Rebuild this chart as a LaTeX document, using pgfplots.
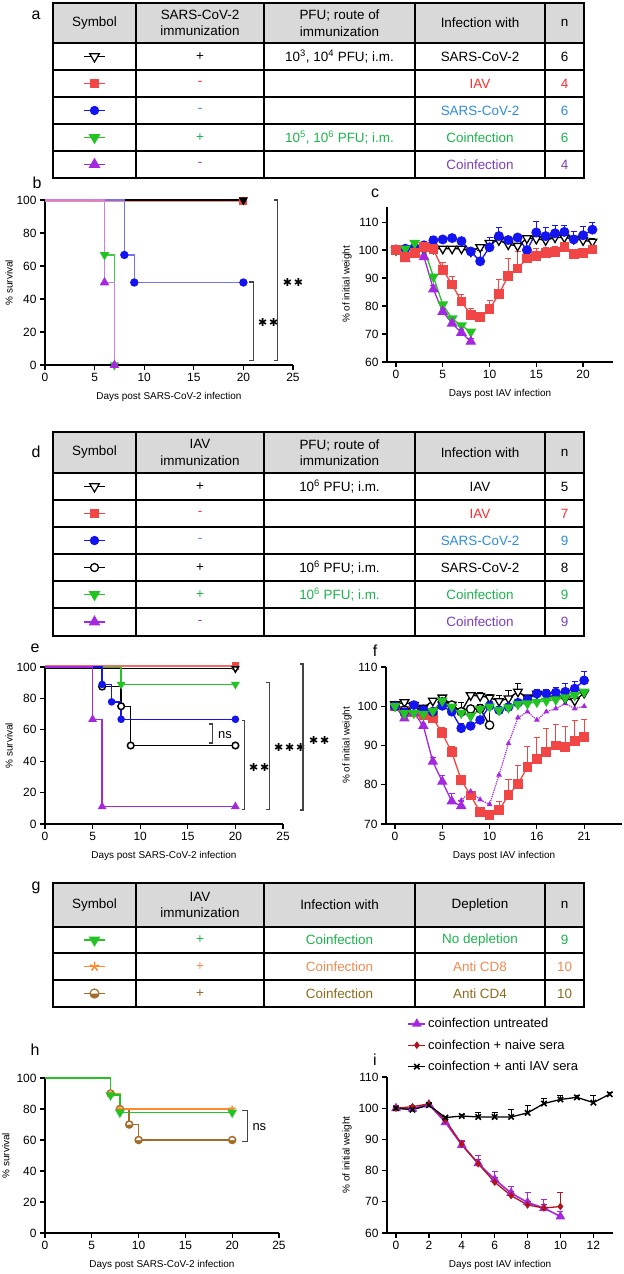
\documentclass[border=0pt]{standalone}
\usepackage{fontspec}
\setmainfont{Liberation Sans}
\newfontfamily\dv{DejaVu Sans}
\usepackage{pgfplots}
\pgfplotsset{compat=1.18}
\usetikzlibrary{plotmarks}

\definecolor{mred}{HTML}{F04646}
\definecolor{mblue}{HTML}{1414F0}
\definecolor{mgreen}{HTML}{22C322}
\definecolor{mpurple}{HTML}{A428E0}
\definecolor{morange}{HTML}{FF8A2E}
\definecolor{mbrown}{HTML}{A36C2A}
\definecolor{mdred}{HTML}{B0141E}
\definecolor{tred}{HTML}{FF2A2A}
\definecolor{tblue}{HTML}{2E8BDC}
\definecolor{tgreen}{HTML}{1DB24C}
\definecolor{tpurple}{HTML}{7E3CBE}
\definecolor{torange}{HTML}{F08A52}
\definecolor{tbrown}{HTML}{8A6A1C}
\definecolor{hdr}{HTML}{D9D9D9}
\definecolor{brkc}{HTML}{444444}

\newcommand{\tf}{\fontsize{13.5}{16.5}\selectfont}
\newcommand{\tickf}{\fontsize{12}{14}\selectfont}
\newcommand{\labf}{\fontsize{13}{15}\selectfont}
\newcommand{\legf}{\fontsize{13}{15}\selectfont}
\newcommand{\letf}{\fontsize{16}{18}\selectfont}
\newcommand{\stars}[1]{{\fontsize{11}{13}\selectfont\dv #1}}

\tikzset{
  tl/.style={line width=1.3bp, black},
  bracket/.style={line width=1.1bp, brkc},
}
\pgfplotsset{
  gp/.style={scale only axis, clip=false, axis lines*=left,
    axis line style={line width=1.3bp,-},
    every tick/.style={line width=1.2bp, black},
    tick align=outside, major tick length=5bp,
    tick label style={font=\tickf},
    /pgf/number format/assume math mode=true,
    label style={font=\labf},
    every axis x label/.style={at={(axis description cs:0.5,0)}, anchor=center, yshift=-32bp},
  },
  ylab/.style={every axis y label/.style={at={(axis description cs:#1,0.5)}, anchor=center, rotate=90}},
  km/.style={const plot, line width=1.5bp, mark phase=2, mark repeat=1},
  wl/.style={line width=1.3bp},
  eb/.style={error bars/y dir=plus, error bars/y explicit,
    error bars/error bar style={line width=1bp, #1},
    error bars/error mark options={rotate=90, mark size=3bp, line width=1bp, #1}},
  sym/.style={line width=1.3bp, mark indices={2}},
}

\begin{document}
\begin{tikzpicture}
\useasboundingbox (0,0) rectangle (624bp,-1274bp);

% ---------- tables and panel letters ----------
\begin{axis}[at={(0bp,0bp)}, anchor=north west, scale only axis, width=624bp, height=1274bp,
  xmin=0, xmax=624, ymin=0, ymax=1274, y dir=reverse, hide axis, clip=false]
% table a
\fill[hdr] (53,3) rectangle (584,43);
\draw[tl] (53,43) -- (584,43) (53,70) -- (584,70) (53,97) -- (584,97) (53,124) -- (584,124) (53,151) -- (584,151);
\draw[tl] (136,3) -- (136,178) (264,3) -- (264,178) (415,3) -- (415,178) (545,3) -- (545,178);
\draw[tl] (53,3) rectangle (584,178);
\node[font=\tf] at (94.5,23) {Symbol};
\node[font=\tf, align=center] at (200,23) {SARS-CoV-2\\immunization};
\node[font=\tf, align=center] at (339.5,23) {PFU; route of\\immunization};
\node[font=\tf] at (480,23) {Infection with};
\node[font=\tf] at (564.5,23) {n};
\node[font=\tf] at (200,56.5) {+};
\node[font=\tf] at (339.5,56.5) {10\textsuperscript{3}, 10\textsuperscript{4} PFU; i.m.};
\node[font=\tf] at (480,56.5) {SARS-CoV-2};
\node[font=\tf] at (564.5,56.5) {6};
\node[font=\tf, tred] at (200,83.5) {-};
\node[font=\tf, tred] at (480,83.5) {IAV};
\node[font=\tf, tred] at (564.5,83.5) {4};
\node[font=\tf, tblue] at (200,110.5) {-};
\node[font=\tf, tblue] at (480,110.5) {SARS-CoV-2};
\node[font=\tf, tblue] at (564.5,110.5) {6};
\node[font=\tf, tgreen] at (200,137.5) {+};
\node[font=\tf, tgreen] at (339.5,137.5) {10\textsuperscript{5}, 10\textsuperscript{6} PFU; i.m.};
\node[font=\tf, tgreen] at (480,137.5) {Coinfection};
\node[font=\tf, tgreen] at (564.5,137.5) {6};
\node[font=\tf, tpurple] at (200,164.5) {-};
\node[font=\tf, tpurple] at (480,164.5) {Coinfection};
\node[font=\tf, tpurple] at (564.5,164.5) {4};
\addplot[sym, black, mark=triangle*, mark size=5.5bp, mark options={rotate=180, fill=white, line width=1.2bp}] coordinates {(84,56.5) (94.5,56.5) (105,56.5)};
\addplot[sym, mred, mark=square*, mark size=4bp, mark options={fill=mred}] coordinates {(84,83.5) (94.5,83.5) (105,83.5)};
\addplot[sym, mblue, mark=*, mark size=4bp, mark options={fill=mblue}] coordinates {(84,110.5) (94.5,110.5) (105,110.5)};
\addplot[sym, mgreen, mark=triangle*, mark size=5.5bp, mark options={rotate=180, fill=mgreen}] coordinates {(84,137.5) (94.5,137.5) (105,137.5)};
\addplot[sym, mpurple, mark=triangle*, mark size=5.5bp, mark options={fill=mpurple}] coordinates {(84,164.5) (94.5,164.5) (105,164.5)};

% table d
\fill[hdr] (53,432) rectangle (584,473);
\draw[tl] (53,473) -- (584,473) (53,500) -- (584,500) (53,527) -- (584,527) (53,554) -- (584,554) (53,581) -- (584,581) (53,608) -- (584,608);
\draw[tl] (136,432) -- (136,636) (264,432) -- (264,636) (415,432) -- (415,636) (545,432) -- (545,636);
\draw[tl] (53,432) rectangle (584,636);
\node[font=\tf] at (94.5,452.5) {Symbol};
\node[font=\tf, align=center] at (200,452.5) {IAV\\immunization};
\node[font=\tf, align=center] at (339.5,452.5) {PFU; route of\\immunization};
\node[font=\tf] at (480,452.5) {Infection with};
\node[font=\tf] at (564.5,452.5) {n};
\node[font=\tf] at (200,486.5) {+};
\node[font=\tf] at (339.5,486.5) {10\textsuperscript{6} PFU; i.m.};
\node[font=\tf] at (480,486.5) {IAV};
\node[font=\tf] at (564.5,486.5) {5};
\node[font=\tf, tred] at (200,513.5) {-};
\node[font=\tf, tred] at (480,513.5) {IAV};
\node[font=\tf, tred] at (564.5,513.5) {7};
\node[font=\tf, tblue] at (200,540.5) {-};
\node[font=\tf, tblue] at (480,540.5) {SARS-CoV-2};
\node[font=\tf, tblue] at (564.5,540.5) {9};
\node[font=\tf] at (200,567.5) {+};
\node[font=\tf] at (339.5,567.5) {10\textsuperscript{6} PFU; i.m.};
\node[font=\tf] at (480,567.5) {SARS-CoV-2};
\node[font=\tf] at (564.5,567.5) {8};
\node[font=\tf, tgreen] at (200,594.5) {+};
\node[font=\tf, tgreen] at (339.5,594.5) {10\textsuperscript{6} PFU; i.m.};
\node[font=\tf, tgreen] at (480,594.5) {Coinfection};
\node[font=\tf, tgreen] at (564.5,594.5) {9};
\node[font=\tf, tpurple] at (200,622) {-};
\node[font=\tf, tpurple] at (480,622) {Coinfection};
\node[font=\tf, tpurple] at (564.5,622) {9};
\addplot[sym, black, mark=triangle*, mark size=5.5bp, mark options={rotate=180, fill=white, line width=1.2bp}] coordinates {(84,486.5) (94.5,486.5) (105,486.5)};
\addplot[sym, mred, mark=square*, mark size=4bp, mark options={fill=mred}] coordinates {(84,513.5) (94.5,513.5) (105,513.5)};
\addplot[sym, mblue, mark=*, mark size=4bp, mark options={fill=mblue}] coordinates {(84,540.5) (94.5,540.5) (105,540.5)};
\addplot[sym, black, mark=*, mark size=4bp, mark options={fill=white, line width=1.3bp}] coordinates {(84,567.5) (94.5,567.5) (105,567.5)};
\addplot[sym, mgreen, mark=triangle*, mark size=5.5bp, mark options={rotate=180, fill=mgreen}] coordinates {(84,594.5) (94.5,594.5) (105,594.5)};
\addplot[sym, mpurple, mark=triangle*, mark size=5.5bp, mark options={fill=mpurple}] coordinates {(84,622) (94.5,622) (105,622)};

% table g
\fill[hdr] (53,883) rectangle (584,927);
\draw[tl] (53,927) -- (584,927) (53,953) -- (584,953) (53,980) -- (584,980);
\draw[tl] (136,883) -- (136,1007) (264,883) -- (264,1007) (415,883) -- (415,1007) (545,883) -- (545,1007);
\draw[tl] (53,883) rectangle (584,1007);
\node[font=\tf] at (94.5,905) {Symbol};
\node[font=\tf, align=center] at (200,905) {IAV\\immunization};
\node[font=\tf] at (339.5,905) {Infection with};
\node[font=\tf] at (480,905) {Depletion};
\node[font=\tf] at (564.5,905) {n};
\node[font=\tf, tgreen] at (200,940) {+};
\node[font=\tf, tgreen] at (339.5,940) {Coinfection};
\node[font=\tf, tgreen] at (480,940) {No depletion};
\node[font=\tf, tgreen] at (564.5,940) {9};
\node[font=\tf, torange] at (200,966.5) {+};
\node[font=\tf, torange] at (339.5,966.5) {Coinfection};
\node[font=\tf, torange] at (480,966.5) {Anti CD8};
\node[font=\tf, torange] at (564.5,966.5) {10};
\node[font=\tf, tbrown] at (200,993.5) {+};
\node[font=\tf, tbrown] at (339.5,993.5) {Coinfection};
\node[font=\tf, tbrown] at (480,993.5) {Anti CD4};
\node[font=\tf, tbrown] at (564.5,993.5) {10};
\addplot[sym, mgreen, mark=triangle*, mark size=5.5bp, mark options={rotate=180, fill=mgreen}] coordinates {(84,940) (94.5,940) (105,940)};
\addplot[sym, morange, mark=star, mark size=5bp, mark options={line width=1.5bp}] coordinates {(84,966.5) (94.5,966.5) (105,966.5)};
\addplot[sym, mbrown, mark=halfcircle*, mark size=4.5bp, mark options={rotate=180, fill=mbrown, line width=1.2bp}] coordinates {(84,993.5) (94.5,993.5) (105,993.5)};

% panel letters
\node[font=\letf] at (36,15) {a};
\node[font=\letf] at (37,183) {b};
\node[font=\letf] at (375,193) {c};
\node[font=\letf] at (36,452) {d};
\node[font=\letf] at (35,648) {e};
\node[font=\letf] at (375,651) {f};
\node[font=\letf] at (36,888) {g};
\node[font=\letf] at (35,1050) {h};
\node[font=\letf] at (375,1060) {i};
\end{axis}

% ---------- b ----------
\begin{axis}[gp, ylab=-0.145, at={(45bp,-365bp)}, anchor=south west, width=248bp, height=165bp,
  xmin=0, xmax=25, ymin=0, ymax=100, xtick={0,5,10,15,20,25}, ytick={0,20,40,60,80,100},
  xlabel={Days post SARS-CoV-2 infection}, ylabel={\% survival}]
\addplot[km, mred!60, mark=square*, mark size=3.3bp, mark options={draw=mred, fill=mred}] coordinates {(0,99.3) (20,99.3)};
\addplot[km, black, mark=triangle*, mark size=4bp, mark options={rotate=180, fill=black}] coordinates {(0,100) (20,100)};
\addplot[km, mblue!60, mark=*, mark size=3.4bp, mark options={draw=mblue, fill=mblue}] coordinates {(0,100) (8,66.7) (9,50) (20,50)};
\addplot[km, mgreen!85, mark=triangle*, mark size=4bp, mark options={rotate=180, draw=mgreen, fill=mgreen}] coordinates {(0,100) (6,66.7) (7,0)};
\addplot[km, mpurple!60, mark=triangle*, mark size=4bp, mark options={draw=mpurple, fill=mpurple}] coordinates {(0,100) (6,50) (7,0)};
\draw[bracket] (axis cs:20.6,50.3) -- (axis cs:21,50.3) -- (axis cs:21,3) -- (axis cs:20.6,3);
\node at (axis cs:22.5,25.5) {\stars{✱\,✱}};
\draw[bracket] (axis cs:23.1,100) -- (axis cs:23.4,100) -- (axis cs:23.4,3) -- (axis cs:23.1,3);
\node at (axis cs:25,49.7) {\stars{✱\,✱}};
\end{axis}

% ---------- c ----------
\begin{axis}[gp, ylab=-0.177, at={(387bp,-362bp)}, anchor=south west, width=226bp, height=155bp,
  xmin=-0.96, xmax=23.2, ymin=60, ymax=115.4, xtick={0,5,10,15,20}, ytick={60,70,80,90,100,110},
  xlabel={Days post IAV infection}, ylabel={\% of initial weight}]
\addplot[wl, black, mark=triangle*, mark size=5bp, mark options={rotate=180, fill=white}, eb=black] table[x index=0, y index=1, y error index=2] {
0 100 0
1 100.5 0.3
2 100.5 0.4
3 100 0.8
4 100.5 0.5
5 100.5 0.8
6 100.5 0.5
7 100.5 0.6
8 99.5 0.8
9 101 0.5
10 102.5 0.8
11 103.5 0.6
12 102 0.7
13 101.5 1
14 104.2 0.6
15 104 1
16 103.5 1
17 104.5 1
18 104.5 1
19 104 1
20 103.5 0.8
21 103 1.2
};
\addplot[wl, mblue, mark=*, mark size=4.3bp, eb=mblue] table[x index=0, y index=1, y error index=2] {
0 100 0
1 100.5 0.5
2 100.8 0.5
3 101.7 0.8
4 103.5 1.5
5 103.8 1
6 104.3 0.8
7 103.2 0.5
8 99.5 1
9 96 4
10 101 3.5
11 105 3.2
12 103.6 1.2
13 104.5 1
14 100 4.5
15 106.3 4
16 105 3
17 106 2.8
18 106.5 2.3
19 103.8 2.8
20 105.3 3.3
21 107.3 2.7
};
\addplot[wl, mgreen, mark=triangle*, mark size=5bp, mark options={rotate=180}, eb=mgreen] table[x index=0, y index=1, y error index=2] {
0 100 0
1 100.5 0.5
2 102.5 0.5
3 100.5 0.5
4 90.5 0.8
5 80.5 0.8
6 75.5 0.6
7 73 0.5
8 70.8 0.5
};
\addplot[wl, mpurple, mark=triangle*, mark size=5bp, eb=mpurple] table[x index=0, y index=1, y error index=2] {
0 100 0
1 96.8 0.8
2 98.5 0.8
3 97.5 1
4 86 1.2
5 78 1
6 73.8 1
7 70.5 1
8 67.3 1
};
\addplot[wl, mred, mark=square*, mark size=4.2bp, eb=mred] table[x index=0, y index=1, y error index=2] {
0 100 0
1 97.6 0.8
2 99 0.8
3 101 1.5
4 100.3 0.8
5 93 2.5
6 87.7 2.8
7 81.6 2.4
8 76.8 2.2
9 76 1.8
10 79 3
11 84.2 5.3
12 90.8 6.2
13 93.4 6
14 97 3
15 97.8 2.8
16 99 2
17 99.3 2
18 101 1.8
19 98.5 1.5
20 99 1.5
21 100.2 1.5
};
\end{axis}

% ---------- e ----------
\begin{axis}[gp, ylab=-0.151, at={(45bp,-824bp)}, anchor=south west, width=238bp, height=157bp,
  xmin=0, xmax=25, ymin=0, ymax=100, xtick={0,5,10,15,20,25}, ytick={0,20,40,60,80,100},
  xlabel={Days post SARS-CoV-2 infection}, ylabel={\% survival}]
\addplot[km, mred!80, mark=square*, mark size=3bp, mark options={draw=mred, fill=mred}] coordinates {(0,100.6) (20,100.6)};
\addplot[km, black, mark=triangle*, mark size=3.6bp, mark options={rotate=180, fill=white}] coordinates {(0,99) (20,99)};
\addplot[km, mgreen, mark=triangle*, mark size=3.6bp, mark options={rotate=180, fill=mgreen}] coordinates {(0,99.8) (8,88.9) (20,88.9)};
\addplot[km, black, mark=*, mark size=3.3bp, mark options={fill=white}] coordinates {(0,100) (6,87.5) (8,75) (9,50) (20,50)};
\addplot[km, mblue, mark=*, mark size=3bp, mark options={fill=mblue}] coordinates {(0,100) (6,88.9) (7,77.8) (8,66.7) (20,66.7)};
\addplot[km, mpurple, mark=triangle*, mark size=3.6bp, mark options={fill=mpurple}] coordinates {(0,100) (5,66.7) (6,11.1) (20,11.1)};
\draw[bracket] (axis cs:17.2,63.7) -- (axis cs:17.6,63.7) -- (axis cs:17.6,51.6) -- (axis cs:17.2,51.6);
\node[font=\labf] at (axis cs:18.9,56.7) {ns};
\draw[bracket] (axis cs:20.7,66.2) -- (axis cs:21,66.2) -- (axis cs:21,9.5) -- (axis cs:20.7,9.5);
\node at (axis cs:22.5,36.3) {\stars{✱\,✱}};
\draw[bracket] (axis cs:23.2,90.4) -- (axis cs:23.55,90.4) -- (axis cs:23.55,9.5) -- (axis cs:23.2,9.5);
\node at (axis cs:25.7,49) {\stars{✱\,✱\,✱}};
\draw[bracket] (axis cs:26.8,101.9) -- (axis cs:27.1,101.9) -- (axis cs:27.1,8.9) -- (axis cs:26.8,8.9);
\node at (axis cs:28.8,53.5) {\stars{✱\,✱}};
\end{axis}

% ---------- f ----------
\begin{axis}[gp, ylab=-0.165, at={(386bp,-824bp)}, anchor=south west, width=236bp, height=157bp,
  xmin=-0.95, xmax=24, ymin=70, ymax=110, xtick={0,5,10,15,20}, xticklabels={0,5,10,16,21},
  ytick={70,80,90,100,110},
  xlabel={Days post IAV infection}, ylabel={\% of initial weight}]
\addplot[wl, mred, mark=square*, mark size=4.2bp, eb=mred] table[x index=0, y index=1, y error index=2] {
0 100 0
1 98.8 0.5
2 98.6 0.5
3 97.7 0.5
4 97 0.5
5 93.1 1.4
6 88.3 1.4
7 81.2 1
8 77.3 0.5
9 73 0.5
10 72.3 0.9
11 73.5 2.2
12 77.4 4
13 80.2 4.6
14 84.5 5.2
15 86.6 5.5
16 88.3 6
17 90 5.3
18 89.7 5.2
19 91.2 5.2
20 92.2 4.4
};
\addplot[wl, mpurple, mark=triangle*, mark size=4.8bp, eb=mpurple] table[x index=0, y index=1, y error index=2] {
0 100 0
1 96.9 0.6
2 98.3 0.5
3 95 0.6
4 85.9 1
5 80.8 1.6
6 75.8 1.9
7 74.6 1.5
};
\addplot[line width=1.2bp, mpurple, densely dotted, mark=triangle*, mark size=2.2bp, mark options={solid}] table {
7 76
8 78.3
9 76.2
10 75
11 82.5
12 90.5
13 97.1
14 98.6
15 96.5
16 98.6
17 99.4
18 100.7
19 99.4
20 100
};
\addplot[wl, black, mark=triangle*, mark size=5bp, mark options={rotate=180, fill=white}, eb=black] table[x index=0, y index=1, y error index=2] {
0 100.5 0
1 101 0.4
2 100.3 0.4
3 99.6 0.5
4 101.4 0.5
5 102.2 0.6
6 100.4 0.5
7 98.6 2.4
8 102.8 0.8
9 102.6 1
10 102.2 0.8
11 101.3 1.5
12 102 2
13 103.7 2
14 102.2 0.5
15 103.2 0.6
16 102.8 0.6
17 102 0.8
18 102 1
19 101.4 1
20 103.4 0.8
};
\addplot[wl, black, mark=*, mark size=4.2bp, mark options={fill=white}, eb=black] table[x index=0, y index=1, y error index=2] {
0 100 0
1 99 0.5
2 99.4 0.5
3 99.2 0.5
4 98.6 0.5
5 101.1 0.5
6 100.3 0.5
7 98.6 0.8
8 99.3 1
9 99.4 1
10 95.2 5.5
};
\addplot[wl, mblue, mark=*, mark size=4.2bp, eb=mblue] table[x index=0, y index=1, y error index=2] {
0 100 0
1 98.5 0.5
2 100.3 0.3
3 99 0.5
4 98.6 0.5
5 100.1 0.5
6 98.6 0.8
7 94.4 1.2
8 95 0.8
9 96.5 0.8
10 100.1 1
11 99 0.5
12 99.8 0.5
13 100.9 0.8
14 101.7 0.8
15 103.2 1
16 103.2 1
17 103.5 1.2
18 103.7 2
19 104.5 1.7
20 106.6 2.2
};
\addplot[wl, mgreen, mark=triangle*, mark size=5bp, mark options={rotate=180}, eb=mgreen] table[x index=0, y index=1, y error index=2] {
0 100 0
1 98.2 0.5
2 98.3 0.5
3 98 0.5
4 98.8 0.5
5 101.4 0.5
6 99.9 0.5
7 98.3 0.8
8 97.5 1
9 99.3 0.8
10 99.9 0.8
11 99 0.5
12 99.7 0.5
13 100.5 0.5
14 100.7 0.5
15 101.1 0.5
16 101.4 0.5
17 101.7 0.5
18 102.2 0.5
19 102.8 0.5
20 103.7 0.5
};
\end{axis}

% ---------- h ----------
\begin{axis}[gp, ylab=-0.167, at={(45bp,-1233bp)}, anchor=south west, width=234bp, height=155bp,
  xmin=0, xmax=25, ymin=0, ymax=100, xtick={0,5,10,15,20,25}, ytick={0,20,40,60,80,100},
  xlabel={Days post SARS-CoV-2 infection}, ylabel={\% survival}]
\addplot[km, mbrown, mark=halfcircle*, mark size=3.5bp, mark options={rotate=180, fill=mbrown}] coordinates {(0,100) (7,90) (8,80) (9,70) (10,60) (20,60)};
\addplot[km, morange, mark=star, mark size=3.5bp] coordinates {(0,100) (7,90) (8,80) (20,80)};
\addplot[km, mgreen, mark=triangle*, mark size=4.2bp, mark options={rotate=180, fill=mgreen}] coordinates {(0,100) (7,88.9) (8,77.8) (20,77.8)};
\draw[bracket] (axis cs:21.1,78.9) -- (axis cs:21.6,78.9) -- (axis cs:21.6,58.9) -- (axis cs:21.1,58.9);
\node[font=\labf] at (axis cs:22.9,68.6) {ns};
\end{axis}

% ---------- i ----------
\begin{axis}[gp, ylab=-0.177, at={(387bp,-1233bp)}, anchor=south west, width=226bp, height=156bp,
  xmin=-0.55, xmax=13.2, ymin=60, ymax=110, xtick={0,2,4,6,8,10,12}, ytick={60,70,80,90,100,110},
  xlabel={Days post IAV infection}, ylabel={\% of initial weight},
  legend style={at={(axis description cs:0.09,1.39)}, anchor=north west, draw=none, fill=none,
    font=\legf, row sep=6.5bp, inner sep=0pt},
  legend cell align=left]
\addplot[wl, line width=1.6bp, mpurple, mark=triangle*, mark size=4bp, eb=mpurple] table[x index=0, y index=1, y error index=2] {
0 100 0
1 99.8 0.4
2 101.2 0.4
3 95.5 1
4 88.2 1.3
5 82.3 2.7
6 77.2 2.6
7 72.8 2.2
8 69.8 3.2
9 68 2.7
10 65.3 1.7
};
\addlegendentry{coinfection untreated}
\addplot[wl, mdred, mark=diamond*, mark size=2.8bp, eb=mdred] table[x index=0, y index=1, y error index=2] {
0 100 0
1 100.5 0.3
2 101.4 0.3
3 96.2 0.5
4 88.5 0.8
5 82.2 1.5
6 76.3 1.5
7 72 1.2
8 69 1
9 68 1
10 68.5 4.5
};
\addlegendentry{coinfection + naive sera}
\addplot[wl, black, mark=x, mark size=3.8bp, mark options={line width=1.6bp}, eb=black] table[x index=0, y index=1, y error index=2] {
0 100 0.6
1 99.5 0.5
2 101 0.4
3 97 0.5
4 97.5 0.5
5 97.2 1.5
6 97.2 1.5
7 97.2 2.3
8 98.5 2.3
9 101.5 1.5
10 102.8 1.2
11 103.5 0.5
12 101.8 2.4
13 104.5 0.5
};
\addlegendentry{coinfection + anti IAV sera}
\end{axis}
\end{tikzpicture}
\end{document}
